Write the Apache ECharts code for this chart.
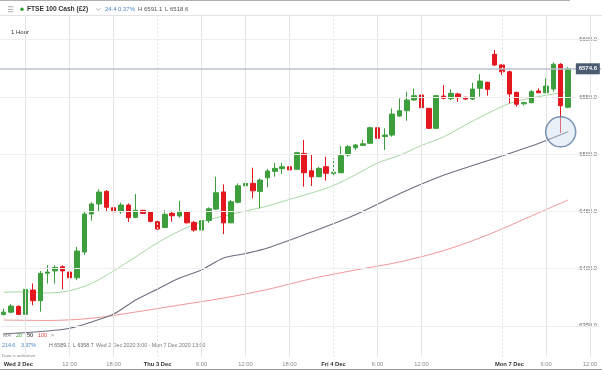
<!DOCTYPE html>
<html><head><meta charset="utf-8">
<script src="https://cdn.jsdelivr.net/npm/echarts@6/dist/echarts.min.js"></script>
<style>html,body{margin:0;padding:0;background:#fff}#c{width:602px;height:370px}</style>
</head><body><div id="c"></div>
<script>
// ---- data (hourly candles, Wed 2 Dec 2020 3:00 onward) ----
const open  = [6360,6362,6367,6360,6381.3,6372,6396,6398,6401.7,6397,6392,6414.5,6447.7,6456.5,6467.5,6453.2,6449.7,6455.6,6444.8,6451,6449.5,6441,6436,6448.3,6446,6449.7,6440.4,6433.7,6442,6452,6467,6440,6458,6472.4,6474.5,6467.5,6479.4,6485,6487.3,6489,6486.8,6500.7,6485.5,6480.3,6489,6483.3,6483.8,6499.3,6505.6,6507.7,6509.5,6523.1,6515.4,6516.7,6533.3,6538,6547.3,6551.7,6540,6522.6,6550.8,6548.5,6552.6,6549.7,6548.2,6557.5,6562.8,6587.2,6578,6572,6554,6544,6545,6555.2,6553.7,6557,6578.5,6541];
const close = [6362,6367.3,6360,6381.9,6372,6395.9,6397,6401,6398,6392,6415.4,6447.7,6456.5,6466.9,6453.6,6449.7,6455.6,6444.5,6451,6448.3,6441.3,6434.6,6447.4,6446.2,6450.1,6440,6433.7,6441.9,6452.3,6466.3,6440,6458.5,6472.4,6474.5,6468,6477.4,6485.3,6487.6,6489,6486.2,6501.3,6483.8,6480.3,6487.6,6483.3,6484.2,6498.7,6506.5,6508,6509.1,6523.1,6513.9,6516.7,6535.1,6538,6547.3,6551.1,6540.6,6522.6,6551.1,6548.8,6553.2,6549.3,6548.2,6556.9,6563.9,6556.7,6577.9,6572,6552.6,6543.6,6545,6554.6,6553.7,6559.5,6578.6,6542.3,6574.6];
const low   = [6359,6361,6359.5,6359.5,6368,6362.4,6387,6387,6382,6391.5,6390,6412,6442,6449.7,6449.7,6446.6,6448,6440.7,6444,6447.7,6440.5,6433.7,6435.7,6441,6444.5,6439.6,6432.2,6433,6440,6451.2,6430.2,6439.6,6457,6458.5,6461.4,6452.7,6471,6480.3,6482.7,6485.5,6486.2,6471.6,6472.2,6479.8,6476.8,6480.3,6483.3,6497.8,6503.6,6507.1,6508.9,6512.4,6503.6,6515.3,6532.7,6529.2,6546.7,6540,6522,6522,6547.9,6547.3,6545.8,6547.3,6547.3,6550.2,6551.1,6577,6569.2,6544.4,6541.5,6542.7,6544.4,6553.2,6553.2,6554.6,6518.6,6540];
const high  = [6365,6369,6368,6383.3,6387,6398,6403,6403,6403,6412.8,6419,6449.7,6458,6469.3,6468.7,6454,6457.6,6457,6465.2,6451.2,6450.3,6443.3,6451,6449.7,6459.3,6450.6,6441.6,6442.5,6453.6,6480.3,6473.7,6460,6474.5,6475.4,6488.2,6478.9,6487,6492.5,6492.5,6489.6,6502.1,6512.4,6499.3,6489,6497.8,6496.4,6507.1,6508,6508.9,6512.4,6524,6524,6522.6,6540,6548.8,6554.6,6557.5,6552.3,6540.6,6551.7,6560.4,6556.7,6553.7,6550.2,6562.4,6570,6563.3,6591.1,6578.8,6573,6554.6,6545.8,6556,6557.5,6566.3,6580,6579.6,6576];

// moving averages read at candle indices
const ma20Idx = [0,3,6,9,12,15,18,21,24,27,30,33,36,39,42,45,48,51,54,57,60,63,66,69,72,75,77];
const ma20Val = [6379.3,6379.8,6378.7,6380.7,6387.1,6398,6410.2,6422.7,6432.9,6441,6446,6450.3,6454.7,6460.5,6466.1,6472.6,6482,6492.3,6499,6507.6,6515,6525.5,6535.5,6544.3,6549.1,6552.6,6554.6];
const ma50Idx = [0,6,9,12,15,18,21,24,27,30,33,36,42,48,54,60,66,72,77];
const ma50Val = [6342.9,6345.5,6347.9,6353.4,6360.3,6372.6,6382.2,6391.8,6398.8,6409.3,6413.2,6418,6432,6447.1,6465.4,6481.5,6494.3,6507.1,6519.6];
const ma100Idx = [0,6,12,18,24,30,36,42,48,54,60,66,72,77];
const ma100Val = [6355.1,6354.7,6356.6,6362.1,6368.2,6374.3,6381.8,6391.2,6398.8,6405.8,6415.7,6429.4,6446,6460];

const slotCount = 82;
const priceTicks = [6350,6400,6450,6500,6550,6600];
const tickIdx  = [2,9,15,21,27,33,39,45,51,57,69,74,80];
const tickText = ['Wed 2 Dec','12:00','18:00','Thu 3 Dec','6:00','12:00','18:00','Fri 4 Dec','6:00','12:00','Mon 7 Dec','6:00','12:00'];
const dayLabels = ['Wed 2 Dec','Thu 3 Dec','Fri 4 Dec','Mon 7 Dec'];
const gridIdx = [3,9,15,21,27,33,39,45,51,57,68,74,80];
const dayIdx  = [21,45,68];
const lastPrice = 6574.6;
const annotIdx = 76, annotPrice = 6519.5;

const slots = Array.from({length: slotCount}, (_, i) => String(i));
const FONT = '"Liberation Sans", Arial, sans-serif';
const UP = '#3c9f3c', DOWN = '#e4161e';

const chart = echarts.init(document.getElementById('c'), null, {renderer: 'canvas'});
const txt = (x, y, text, color, size, weight) => ({
  type: 'text', x: x, y: y, silent: true,
  style: {text: text, fill: color, font: (weight || 'normal') + ' ' + size + 'px ' + FONT,
          verticalAlign: 'middle', textVerticalAlign: 'middle', align: 'left'}
});

chart.setOption({
  animation: false,
  backgroundColor: '#fff',
  grid: {left: -2, right: 1, top: 15, bottom: 13, containLabel: false},
  xAxis: {
    type: 'category', data: slots, boundaryGap: true,
    axisLine: {show: false}, axisTick: {show: false}, splitLine: {show: false},
    axisLabel: {
      interval: 0, margin: 4,
      formatter: (v, i) => {
        const j = tickIdx.indexOf(i);
        if (j < 0) return '';
        const t = tickText[j];
        return dayLabels.indexOf(t) >= 0 ? '{d|' + t + '}' : '{h|' + t + '}';
      },
      rich: {
        d: {fontWeight: 'bold', color: '#333', fontSize: 5.8, fontFamily: FONT},
        h: {color: '#8c8c8c', fontSize: 5.8, fontFamily: FONT}
      }
    }
  },
  yAxis: {
    type: 'value', position: 'right', min: 6322.8, max: 6621.6, scale: true,
    axisLine: {show: false}, axisTick: {show: false}, splitLine: {show: false},
    axisLabel: {inside: true, margin: 4, customValues: priceTicks,
      formatter: v => Number(v).toFixed(1), color: '#666', fontSize: 5.8, fontFamily: FONT}
  },
  series: [
    {
      type: 'line', name: 'grid', z: 1, data: [], silent: true,
      markLine: {
        silent: true, symbol: ['none', 'none'], label: {show: false}, animation: false,
        lineStyle: {color: '#e6e6e6', width: 1, type: 'solid'},
        data: gridIdx.map(k => ({xAxis: k, lineStyle: {color: '#e4e4e4', width: 1,
                 type: dayIdx.indexOf(k) >= 0 ? [2, 2] : 'solid'}}))
              .concat(priceTicks.map(v => ({yAxis: v, lineStyle: {color: '#eeeeee', width: 1, type: 'solid'}})))
      }
    },
    {type: 'line', name: 'MA100', z: 2, smooth: 0.3, showSymbol: false, symbol: 'none', silent: true,
     data: ma100Idx.map((k, i) => [k, ma100Val[i]]), lineStyle: {color: '#f29898', width: 1}},
    {type: 'line', name: 'MA50', z: 2, smooth: 0.3, showSymbol: false, symbol: 'none', silent: true,
     data: ma50Idx.map((k, i) => [k, ma50Val[i]]), lineStyle: {color: '#6d6f80', width: 1.1}},
    {type: 'line', name: 'MA20', z: 2, smooth: 0.3, showSymbol: false, symbol: 'none', silent: true,
     data: ma20Idx.map((k, i) => [k, ma20Val[i]]), lineStyle: {color: '#a6d8a2', width: 1}},
    {
      type: 'candlestick', name: 'FTSE', z: 3, barWidth: 5, clip: false,
      data: open.map((o, i) => [o, close[i], low[i], high[i]]),
      itemStyle: {color: UP, color0: DOWN, borderColor: UP, borderColor0: DOWN, borderWidth: 1},
      markLine: {
        silent: true, symbol: ['none', 'none'], animation: false, label: {show: false},
        lineStyle: {color: '#b9c1cb', width: 1.5, type: 'solid'},
        data: [{yAxis: lastPrice}]
      },
      markPoint: {
        silent: true, animation: false,
        data: [{coord: [slotCount - 1, lastPrice], symbol: 'rect', symbolSize: [24, 11], symbolOffset: [-9.5, 0],
                itemStyle: {color: '#4b5b72'},
                label: {show: true, position: 'inside', formatter: lastPrice.toFixed(1), color: '#fff',
                        fontSize: 6, fontFamily: FONT, fontWeight: 'bold'}}]
      }
    },
    {
      type: 'scatter', z: 5, silent: true, symbolSize: 30,
      data: [[annotIdx, annotPrice]],
      itemStyle: {color: 'rgba(205,220,238,0.55)', borderColor: '#5a7aa2', borderWidth: 1.5}
    }
  ],
  graphic: [
    {type: 'line', silent: true, shape: {x1: 0, y1: 0.5, x2: 570, y2: 0.5}, style: {stroke: '#b0b0b0', lineWidth: 1}},
    {type: 'line', silent: true, shape: {x1: 0, y1: 15.5, x2: 602, y2: 15.5}, style: {stroke: '#e2e2e2', lineWidth: 1}},
    {type: 'line', silent: true, shape: {x1: 0, y1: 369.5, x2: 602, y2: 369.5}, style: {stroke: '#9a9a9a', lineWidth: 1}},
    {type: 'rect', silent: true, shape: {x: 8, y: 6.4, width: 5.5, height: 0.8}, style: {fill: '#9a9a9a'}},
    {type: 'rect', silent: true, shape: {x: 8, y: 8.9, width: 5.5, height: 0.8}, style: {fill: '#9a9a9a'}},
    {type: 'rect', silent: true, shape: {x: 8, y: 11.4, width: 5.5, height: 0.8}, style: {fill: '#9a9a9a'}},
    {type: 'circle', silent: true, shape: {cx: 22, cy: 9.3, r: 1.7}, style: {fill: '#2e9e2e'}},
    txt(27, 9.5, 'FTSE 100 Cash (£2)', '#333', 6.6, 'bold'),
    {type: 'polyline', silent: true, shape: {points: [[96.5, 8.3], [98.5, 10.3], [100.5, 8.3]]}, style: {stroke: '#999', lineWidth: 0.8, fill: null}},
    txt(105, 9.5, '24.4', '#4a86c4', 6),
    txt(118, 9.5, '0.37%', '#4a86c4', 6),
    txt(138, 9.5, 'H 6591.1', '#555', 6),
    txt(165, 9.5, 'L 6518.6', '#555', 6),
    txt(11, 32, '1 Hour', '#333', 6),
    txt(3, 335.5, 'MA', '#888', 5.5),
    txt(16, 335.5, '20', '#3aa33a', 5.5),
    txt(27, 335.5, '50', '#555', 5.5, 'bold'),
    txt(38, 335.5, '100', '#e04444', 5.5),
    txt(51, 335.5, '×', '#999', 5.5),
    txt(2, 346, '214.6', '#4a86c4', 5.3),
    txt(21, 346, '3.37%', '#4a86c4', 5.3),
    txt(49, 346, 'H 6589.1', '#666', 5.3),
    txt(73, 346, 'L 6358.7', '#666', 5.3),
    txt(96, 346, 'Wed 2 Dec 2020 3:00 - Mon 7 Dec 2020 13:00', '#777', 5.3),
    txt(2, 356, 'Data is indicative', '#888', 4.4)
  ]
});
</script>
</body></html>
